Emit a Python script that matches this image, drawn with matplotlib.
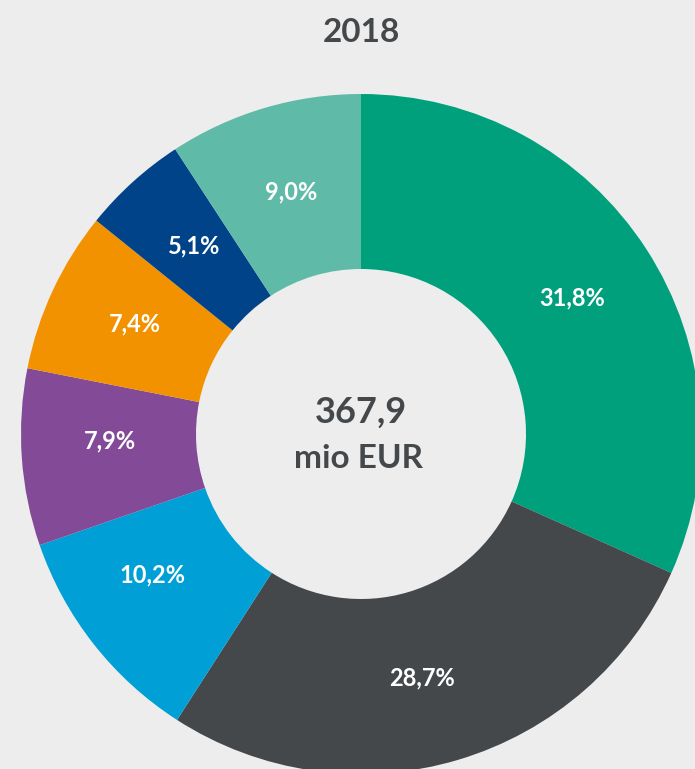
import matplotlib
matplotlib.use("Agg")
import matplotlib.pyplot as plt

title = "2018"
# arc shares as drawn in the reference
arc_values = [31.7, 27.4, 10.6, 8.4, 7.7, 5.0, 9.2]
# shares printed on the chart (labels are placed at the middle of these)
label_values = [31.8, 28.7, 10.2, 7.9, 7.4, 5.1, 9.0]
labels = ["31,8%", "28,7%", "10,2%", "7,9%", "7,4%", "5,1%", "9,0%"]
colors = ["#00A07D", "#45484B", "#00A0D6", "#834A98", "#F39200", "#004388", "#5FBBA7"]
center_total = "367,9"
center_unit = "mio EUR"

BG = "#EDEDED"
TXT = "#45484B"
plt.rcParams['font.family'] = ['Lato', 'DejaVu Sans']

W, H = 695, 769
fig = plt.figure(figsize=(W / 100, H / 100), dpi=100, facecolor=BG)
ax = fig.add_axes([0, 0, 1, 1])
ax.set_facecolor(BG)

cx, cy = 361, H - 434
R = 340
inner = 165

# coloured ring
ax.pie(
    arc_values, colors=colors, startangle=90, counterclock=False,
    center=(cx, cy), radius=R, frame=True,
    wedgeprops=dict(width=R - inner, linewidth=0),
)

# percentage labels, positioned by the printed shares
lab_iter = iter(labels)
ax.pie(
    label_values, colors=["none"] * len(label_values), startangle=90,
    counterclock=False, center=(cx, cy), radius=R, frame=True,
    wedgeprops=dict(width=R - inner, linewidth=0, fill=False),
    autopct=lambda p: next(lab_iter), pctdistance=0.74,
    textprops=dict(color="white", fontsize=17, fontweight="bold"),
)

ax.set_xlim(0, W)
ax.set_ylim(0, H)
ax.set_aspect('equal')
ax.axis('off')

ax.text(cx, H - 33, title, ha="center", va="center", fontsize=24,
        fontweight="bold", color=TXT)
ax.text(cx, H - 412, center_total, ha="center", va="center", fontsize=26,
        fontweight="bold", color=TXT)
ax.text(cx - 2, H - 458, center_unit, ha="center", va="center", fontsize=24,
        fontweight="bold", color=TXT)

fig.savefig("out.png", dpi=100, facecolor=BG)
